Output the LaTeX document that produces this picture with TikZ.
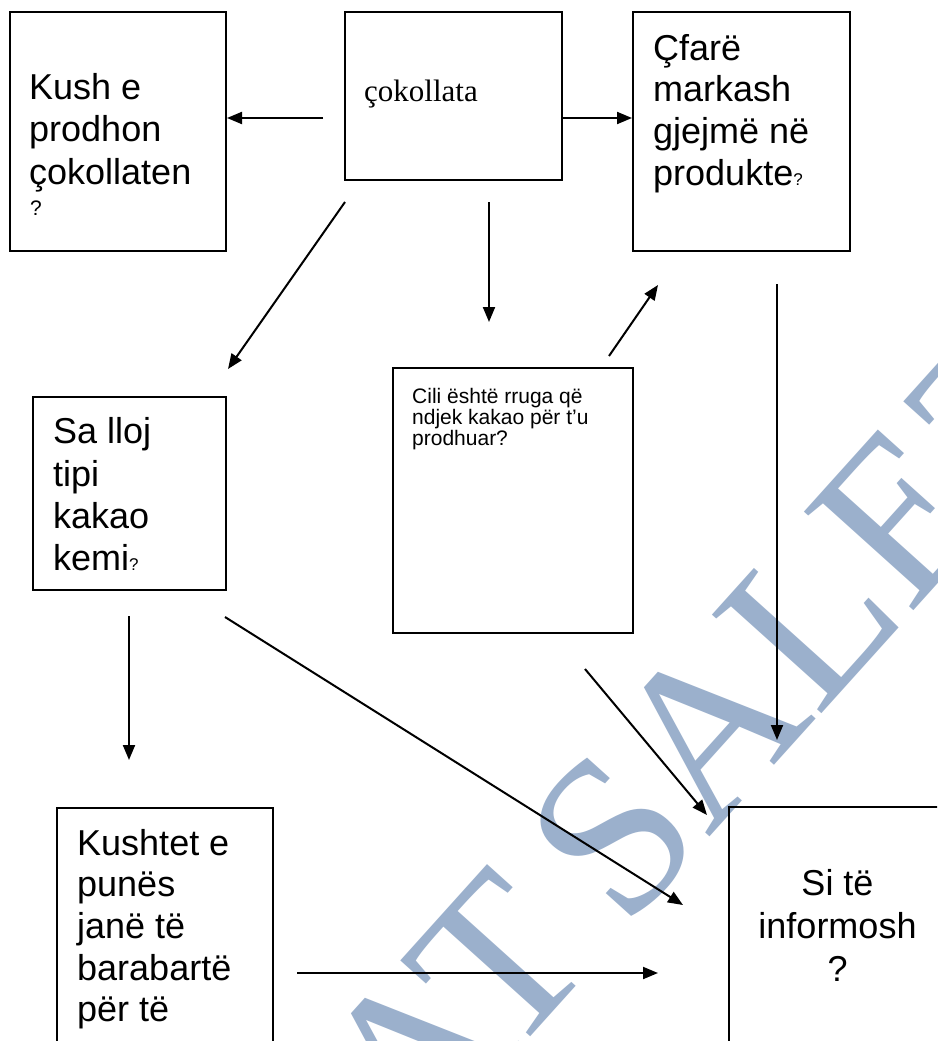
\documentclass[tikz,border=0pt]{standalone}
\usepackage{fontspec}
\setmainfont{Liberation Serif}
\newfontfamily\arialfont{Liberation Sans}
\usetikzlibrary{arrows.meta}
\definecolor{wmblue}{RGB}{155,176,204}
\begin{document}
\begin{tikzpicture}[x=1pt,y=-1pt,
  box/.style={draw, line width=2pt, inner sep=0pt, outer sep=0pt},
  big/.style={anchor=base west, inner sep=0pt, font=\arialfont\fontsize{36}{42}\selectfont},
  bigc/.style={anchor=base, inner sep=0pt, font=\arialfont\fontsize{36}{42}\selectfont},
  small/.style={anchor=base west, inner sep=0pt, font=\arialfont\fontsize{21}{24}\selectfont},
  arr/.style={line width=2pt, -{Triangle[length=15pt,width=12pt]}}
]
\useasboundingbox (0,0) rectangle (937,1041);
\fill[white] (0,0) rectangle (937,1041);
\clip (0,0) rectangle (937,1041);

% watermark
\node[text=wmblue, rotate=48, inner sep=0pt, font=\fontsize{225}{225}\selectfont] (wm) at (700,739) {AT{\kern-0.08em} SALEZ};

% boxes
\node[box, minimum width=216pt, minimum height=239pt] (b1) at (118,131.5) {};
\node[box, minimum width=217pt, minimum height=168pt] (b2) at (453.5,96) {};
\node[box, minimum width=217pt, minimum height=239pt] (b3) at (741.5,131.5) {};
\node[box, minimum width=240pt, minimum height=265pt] (b4) at (513,500.5) {};
\node[box, minimum width=193pt, minimum height=193pt] (b5) at (129.5,493.5) {};
\node[box, minimum width=216pt, minimum height=292pt] (b6) at (165,954) {};
\node[box, minimum width=217pt, minimum height=293pt] (b7) at (837.5,953.5) {};

% texts
\node[big] (t1a) at (29,99.3) {Kush e};
\node[big] (t1b) at (29,141.7) {prodhon};
\node[big] (t1c) at (29,184) {çokollaten};
\node[anchor=base west, inner sep=0pt, font=\arialfont\fontsize{21}{21}\selectfont] (t1d) at (30,215) {?};

\node[anchor=base west, inner sep=0pt, font=\fontsize{31}{34}\selectfont] (t2) at (364,101.7) {çokollata};

\node[big] (t3a) at (653,60) {Çfarë};
\node[big] (t3b) at (653,101.7) {markash};
\node[big] (t3c) at (653,143.3) {gjejmë në};
\node[big] (t3d) at (653,185.7) {produkte{\fontsize{17}{17}\selectfont ?}};

\node[small] (t4a) at (412,403.3) {Cili është rruga që};
\node[small] (t4b) at (412,424.5) {ndjek kakao për t’u};
\node[small] (t4c) at (412,445.7) {prodhuar?};

\node[big] (t5a) at (53,443.3) {Sa lloj};
\node[big] (t5b) at (53,486) {tipi};
\node[big] (t5c) at (53,528.3) {kakao};
\node[big] (t5d) at (53,570) {kemi{\fontsize{17}{17}\selectfont ?}};

\node[big] (t6a) at (77,855) {Kushtet e};
\node[big] (t6b) at (77,896.7) {punës};
\node[big] (t6c) at (77,938.3) {janë të};
\node[big] (t6d) at (77,980) {barabartë};
\node[big] (t6e) at (77,1021.7) {për të};

\node[bigc] (t7a) at (837.5,895) {Si të};
\node[bigc] (t7b) at (837.5,938) {informosh};
\node[bigc] (t7c) at (837.5,981) {?};

% connector end points
\coordinate (a1s) at (323,118);  \coordinate (a1e) at (227,118);
\coordinate (a2s) at (562,118);  \coordinate (a2e) at (632,118);
\coordinate (a3s) at (345,202);  \coordinate (a3e) at (228,369);
\coordinate (a4s) at (489,202);  \coordinate (a4e) at (489,322);
\coordinate (a5s) at (609,356);  \coordinate (a5e) at (658,285);
\coordinate (a6s) at (777,284);  \coordinate (a6e) at (777,740);
\coordinate (a7s) at (129,616);  \coordinate (a7e) at (129,760);
\coordinate (a8s) at (225,617);  \coordinate (a8e) at (683,905);
\coordinate (a9s) at (585,669);  \coordinate (a9e) at (707,815);
\coordinate (a10s) at (297,973); \coordinate (a10e) at (658,973);

\draw[arr] (a1s) -- (a1e);
\draw[arr] (a2s) -- (a2e);
\draw[arr] (a3s) -- (a3e);
\draw[arr] (a4s) -- (a4e);
\draw[arr] (a5s) -- (a5e);
\draw[arr] (a6s) -- (a6e);
\draw[arr] (a7s) -- (a7e);
\draw[arr] (a8s) -- (a8e);
\draw[arr] (a9s) -- (a9e);
\draw[arr] (a10s) -- (a10e);
\end{tikzpicture}
\end{document}
